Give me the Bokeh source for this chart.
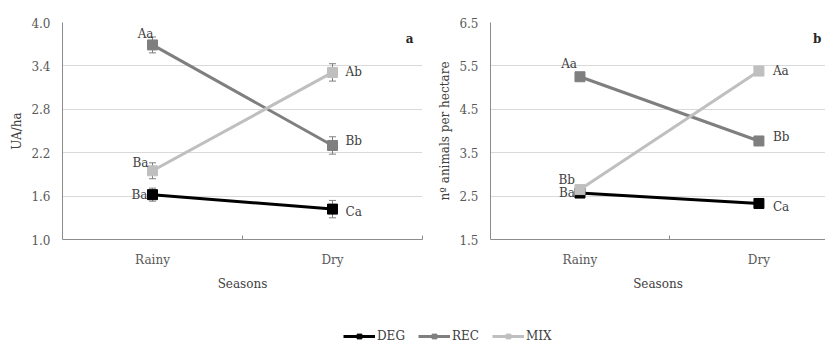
from bokeh.plotting import figure
from bokeh.models import Range1d, FixedTicker, Whisker, TeeHead, ColumnDataSource, Label, Legend, LegendItem
from bokeh.layouts import column, row
from bokeh.embed import file_html
from bokeh.resources import INLINE
from bokeh.core.properties import value

seasons = ["Rainy", "Dry"]
series = ["DEG", "REC", "MIX"]

# Panel a: UA/ha
ua_deg = [1.62, 1.42]
ua_rec = [3.69, 2.30]
ua_mix = [1.95, 3.31]
ua_deg_err = [0.09, 0.12]
ua_rec_err = [0.11, 0.12]
ua_mix_err = [0.11, 0.12]
ua_deg_lab = ["Ba", "Ca"]
ua_rec_lab = ["Aa", "Bb"]
ua_mix_lab = ["Ba", "Ab"]
ua_ticks = [1.0, 1.6, 2.2, 2.8, 3.4, 4.0]

# Panel b: animals per hectare
an_deg = [2.57, 2.33]
an_rec = [5.25, 3.77]
an_mix = [2.65, 5.38]
an_deg_err = [0.04, 0.07]
an_rec_err = [0.06, 0.06]
an_mix_err = [0.05, 0.10]
an_deg_lab = ["Ba", "Ca"]
an_rec_lab = ["Aa", "Bb"]
an_mix_lab = ["Bb", "Aa"]
an_ticks = [1.5, 2.5, 3.5, 4.5, 5.5, 6.5]

# styles
colors = {"DEG": "#000000", "REC": "#7f7f7f", "MIX": "#bfbfbf"}
FONT = value("DejaVu Serif")
FS = "12px"
TXT = "#404040"
TICK = "#595959"
AXIS = "#8c8c8c"
# label offsets (screen px) per series: (rainy_dx, rainy_dy, dry_dx, dry_dy)
offs_a = {"DEG": (-5, 0, 13, 3), "REC": (1, -11, 13, -4), "MIX": (-4, -8, 13, 0)}
offs_b = {"DEG": (-5, 0, 14, 4), "REC": (-3, -13, 14, -4), "MIX": (-5, -10, 14, 0)}
NAN = float("nan")


def make_panel(width, bl, br, x_end, ticks, ylabel, data, offs, letter, letter_dx):
    p = figure(width=width, height=298, x_range=Range1d(0, x_end),
               y_range=Range1d(ticks[0], ticks[-1]),
               output_backend="svg", toolbar_location=None,
               min_border_left=bl, min_border_right=br, min_border_top=22,
               min_border_bottom=59)
    p.outline_line_color = None
    xs = [i + 0.5 for i in range(len(seasons))]
    for name in series:
        vals, errs, labs = data[name]
        c = colors[name]
        src = ColumnDataSource(dict(x=xs, y=vals, lo=[v - e for v, e in zip(vals, errs)],
                                    hi=[v + e for v, e in zip(vals, errs)], lab=labs))
        p.line("x", "y", source=src, line_color=c, line_width=3)
        p.scatter("x", "y", source=src, marker="square", size=10, fill_color=c, line_color=c)
        w = Whisker(source=src, base="x", lower="lo", upper="hi", dimension="height",
                    line_color="#7f7f7f", line_width=1,
                    lower_head=TeeHead(size=7, line_color="#7f7f7f", line_width=1),
                    upper_head=TeeHead(size=7, line_color="#7f7f7f", line_width=1))
        p.add_layout(w)
        o = offs[name]
        p.text(x=[xs[0]], y=[vals[0]], text=[labs[0]], x_offset=o[0], y_offset=o[1],
               text_align="right", text_baseline="middle", text_font=FONT,
               text_font_size=FS, text_color=TXT)
        p.text(x=[xs[1]], y=[vals[1]], text=[labs[1]], x_offset=o[2], y_offset=o[3],
               text_align="left", text_baseline="middle", text_font=FONT,
               text_font_size=FS, text_color=TXT)
    # axes
    p.xaxis.ticker = FixedTicker(ticks=xs, minor_ticks=[float(i) for i in range(1, len(seasons) + 1)])
    p.xaxis.major_label_overrides = {x: s for x, s in zip(xs, seasons)}
    p.xaxis.major_tick_line_color = None
    p.xaxis.major_tick_out = 0
    p.xaxis.major_tick_in = 0
    p.xaxis.minor_tick_line_color = AXIS
    p.xaxis.minor_tick_out = 0
    p.xaxis.minor_tick_in = 4
    p.xaxis.axis_line_color = AXIS
    p.xaxis.major_label_standoff = 13
    p.xaxis.axis_label = "Seasons"
    p.xaxis.axis_label_standoff = 7
    p.yaxis.ticker = FixedTicker(ticks=ticks, minor_ticks=[])
    p.yaxis.major_label_overrides = {t: f"{t:.1f}" for t in ticks}
    p.yaxis.major_tick_line_color = None
    p.yaxis.major_tick_out = 0
    p.yaxis.major_tick_in = 0
    p.yaxis.minor_tick_line_color = None
    p.yaxis.minor_tick_out = 0
    p.yaxis.axis_line_color = AXIS
    p.yaxis.major_label_standoff = 12
    p.yaxis.axis_label = ylabel
    p.yaxis.axis_label_standoff = 4
    for ax in (p.xaxis, p.yaxis):
        ax.major_label_text_font = "DejaVu Serif"
        ax.major_label_text_font_size = FS
        ax.major_label_text_color = TICK
        ax.axis_label_text_font = "DejaVu Serif"
        ax.axis_label_text_font_size = FS
        ax.axis_label_text_font_style = "normal"
        ax.axis_label_text_color = TXT
    p.xgrid.grid_line_color = None
    p.ygrid.grid_line_color = "#d9d9d9"
    p.ygrid.grid_line_width = 1
    p.add_layout(Label(x=x_end, y=ticks[-1], x_offset=letter_dx, y_offset=-16, text=letter,
                       text_align="right", text_baseline="middle", text_font="DejaVu Serif",
                       text_font_size=FS, text_font_style="bold", text_color="#262626"))
    return p


data_a = {"DEG": (ua_deg, ua_deg_err, ua_deg_lab), "REC": (ua_rec, ua_rec_err, ua_rec_lab),
          "MIX": (ua_mix, ua_mix_err, ua_mix_lab)}
data_b = {"DEG": (an_deg, an_deg_err, an_deg_lab), "REC": (an_rec, an_rec_err, an_rec_lab),
          "MIX": (an_mix, an_mix_err, an_mix_lab)}

p1 = make_panel(430, 62, 8, 2.0, ua_ticks, "UA/ha", data_a, offs_a, "a", -9)
p2 = make_panel(395, 60, 0, 1.872, an_ticks, "nº animals per hectare", data_b, offs_b, "b", -4)

# legend strip
p3 = figure(width=825, height=46, x_range=Range1d(0, 1), y_range=Range1d(0, 1),
            output_backend="svg", toolbar_location=None,
            min_border_left=0, min_border_right=0, min_border_top=0, min_border_bottom=0)
p3.axis.visible = False
p3.grid.visible = False
p3.outline_line_color = None
items = []
for name in series:
    c = colors[name]
    r1 = p3.line(x=[NAN], y=[NAN], line_color=c, line_width=3)
    r2 = p3.scatter(x=[NAN], y=[NAN], marker="square", size=8, fill_color=c, line_color=c)
    items.append(LegendItem(label=name, renderers=[r1, r2]))
leg = Legend(items=items, orientation="horizontal", location=(343, 1),
             glyph_width=32, glyph_height=12, label_height=12, label_standoff=2,
             spacing=13, padding=0, margin=0, border_line_color=None,
             background_fill_alpha=0, label_text_font="DejaVu Serif",
             label_text_font_size=FS, label_text_color=TXT)
p3.add_layout(leg, "center")

layout = column(row(p1, p2), p3)
open("out.html", "w").write(file_html(layout, INLINE))
